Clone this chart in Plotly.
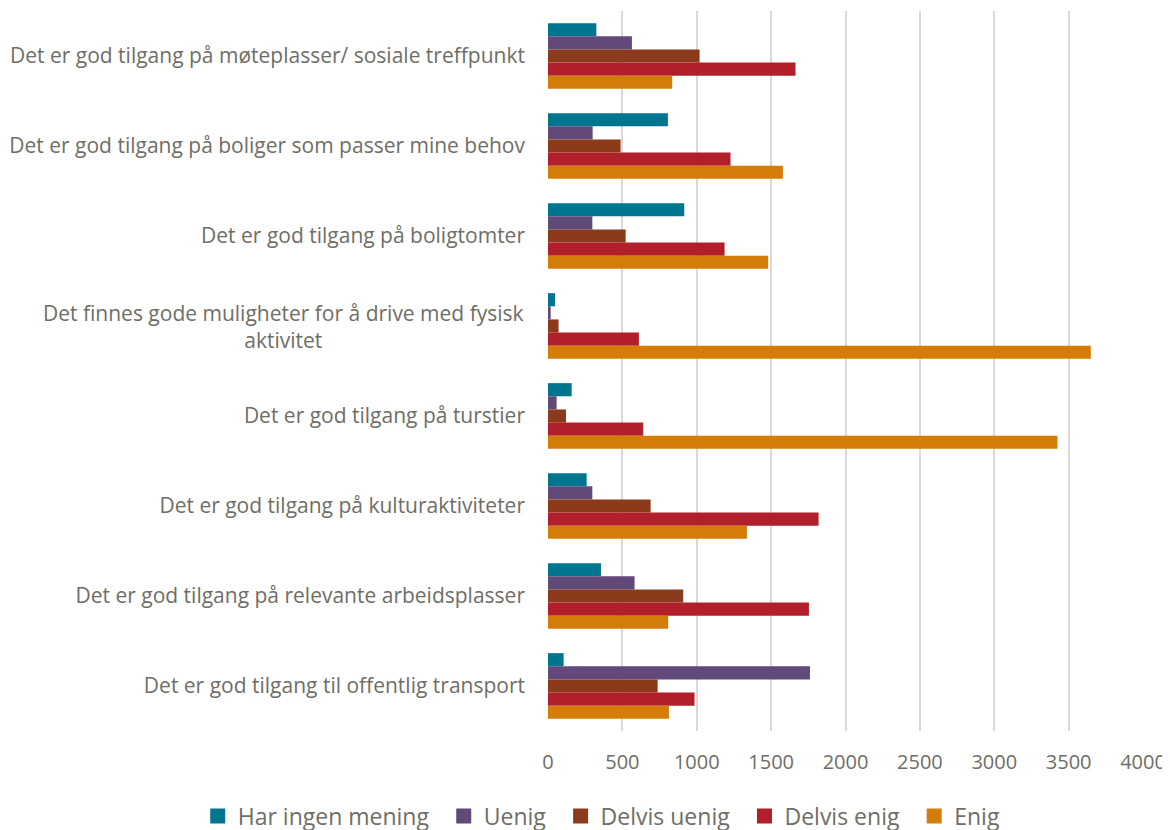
import plotly.graph_objects as go

categories = [
    "Det er god tilgang på møteplasser/ sosiale treffpunkt",
    "Det er god tilgang på boliger som passer mine behov",
    "Det er god tilgang på boligtomter",
    "Det finnes gode muligheter for å drive med fysisk<br>aktivitet",
    "Det er god tilgang på turstier",
    "Det er god tilgang på kulturaktiviteter",
    "Det er god tilgang på relevante arbeidsplasser",
    "Det er god tilgang til offentlig transport",
]

har_ingen_mening = [325, 806, 916, 47, 159, 260, 356, 105]
uenig = [564, 300, 298, 18, 58, 298, 582, 1761]
delvis_uenig = [1019, 488, 522, 71, 121, 690, 909, 737]
delvis_enig = [1664, 1227, 1187, 611, 640, 1819, 1754, 985]
enig = [835, 1579, 1480, 3649, 3425, 1337, 808, 813]

series = [
    ("Har ingen mening", har_ingen_mening, "#00758F"),
    ("Uenig", uenig, "#614979"),
    ("Delvis uenig", delvis_uenig, "#8B3A1C"),
    ("Delvis enig", delvis_enig, "#B01F2A"),
    ("Enig", enig, "#D37D08"),
]

TEXT = "#6e6e66"
FONT = "Open Sans, sans-serif"
PAD = "\u00a0\u2009"  # widens the gap between legend entries

fig = go.Figure()
for name, vals, color in series:
    fig.add_trace(
        go.Bar(
            y=categories, x=vals, name=name, orientation="h",
            marker=dict(color=color, line=dict(width=0)),
            showlegend=False,
        )
    )
# legend-only entries so the swatches can be a bit bigger than plotly's bar swatch
for i, (name, vals, color) in enumerate(series):
    fig.add_trace(
        go.Scatter(
            x=[None], y=[None], mode="markers",
            name=name + (PAD if i < len(series) - 1 else ""),
            marker=dict(symbol="square", size=15, color=color),
        )
    )

# Wrapped label is centred in the original, so draw it as an annotation.
ticktext = [c if "<br>" not in c else "" for c in categories]
for c in categories:
    if "<br>" in c:
        fig.add_annotation(
            x=0, xref="paper", y=c, yref="y", text=c, showarrow=False,
            xanchor="right", xshift=-22, align="center",
            font=dict(size=21, color=TEXT, family=FONT),
        )

fig.update_layout(
    barmode="group",
    bargap=0.27,
    bargroupgap=0,
    width=1162,
    height=822,
    margin=dict(l=540, r=27, t=3, b=99, autoexpand=False),
    plot_bgcolor="white",
    paper_bgcolor="white",
    font=dict(family=FONT, color=TEXT, size=21),
    legend=dict(
        orientation="h", x=-0.5887, xanchor="left", y=-0.118, yanchor="middle",
        font=dict(size=23, color=TEXT), itemwidth=30, tracegroupgap=0,
    ),
)
fig.update_xaxes(
    range=[0, 4000], dtick=500, showgrid=True, gridcolor="#d9d9d9", gridwidth=1.5,
    zeroline=False, showline=False, ticks="", automargin=False,
    ticklabelstandoff=17, tickfont=dict(size=20, color=TEXT),
)
fig.update_yaxes(
    autorange="reversed", showgrid=False, showline=False, ticks="",
    tickmode="array", tickvals=categories, ticktext=ticktext,
    automargin=False, ticklabelstandoff=22, tickfont=dict(size=21, color=TEXT),
)

fig.write_html("out.html")
